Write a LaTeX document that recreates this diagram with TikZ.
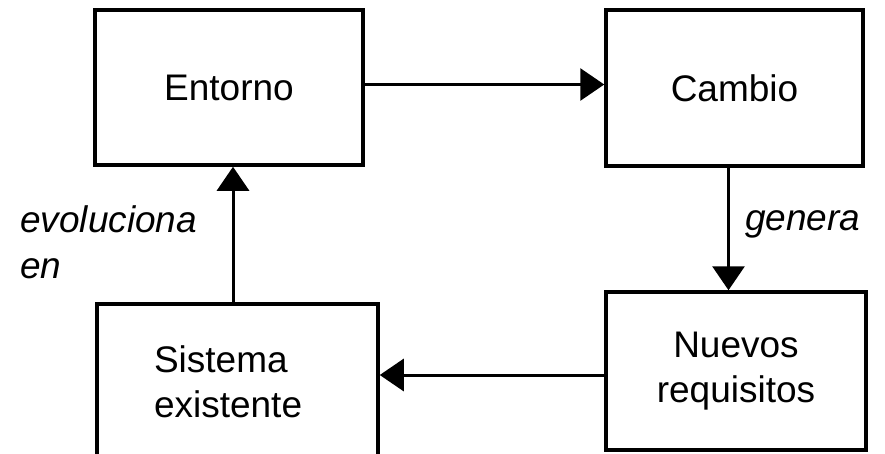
\documentclass[tikz,border=0pt]{standalone}
\usepackage{fontspec}
\setmainfont{Liberation Sans}
\usetikzlibrary{arrows.meta}
\begin{document}
\begin{tikzpicture}[x=1pt,y=-1pt,
  box/.style={draw=black,line width=3.5pt,rectangle,inner sep=0pt,
    font=\fontsize{37}{45}\selectfont},
  conn/.style={line width=3pt,-{Triangle[length=24pt,width=32pt]}},
  lbl/.style={inner sep=0pt,anchor=base west,font=\fontsize{37}{46}\selectfont\itshape}]
\path[use as bounding box] (0,0) rectangle (885,453);
\clip (0,0) rectangle (885,453);
\node[box,minimum width=268pt,minimum height=155pt] (ent) at (229,87.5) {Entorno};
\node[box,minimum width=257pt,minimum height=156pt] (cam) at (734.5,88) {Cambio};
\node[box,minimum width=260pt,minimum height=158pt,align=center] (nue) at (736,371) {Nuevos\\requisitos};
\node[box,minimum width=281pt,minimum height=156pt,align=left,text width=167pt] (sis) at (237.5,382) {Sistema\\existente};
\node[lbl] (gen) at (745,230) {genera};
\node[lbl] (evo) at (20,232) {evoluciona};
\node[lbl] (evo2) at (20,278) {en};
\draw[conn] ([yshift=3pt]ent.east) -- ([yshift=3pt]ent.east -| cam.west);
\draw[conn] ([xshift=-6pt]cam.south) -- ([xshift=-6pt]cam.south |- nue.north);
\draw[conn] ([yshift=-4pt]nue.west) -- ([yshift=-4pt]nue.west -| sis.east);
\draw[conn] ([xshift=-4.5pt]sis.north) -- ([xshift=-4.5pt]sis.north |- ent.south);
\end{tikzpicture}
\end{document}
